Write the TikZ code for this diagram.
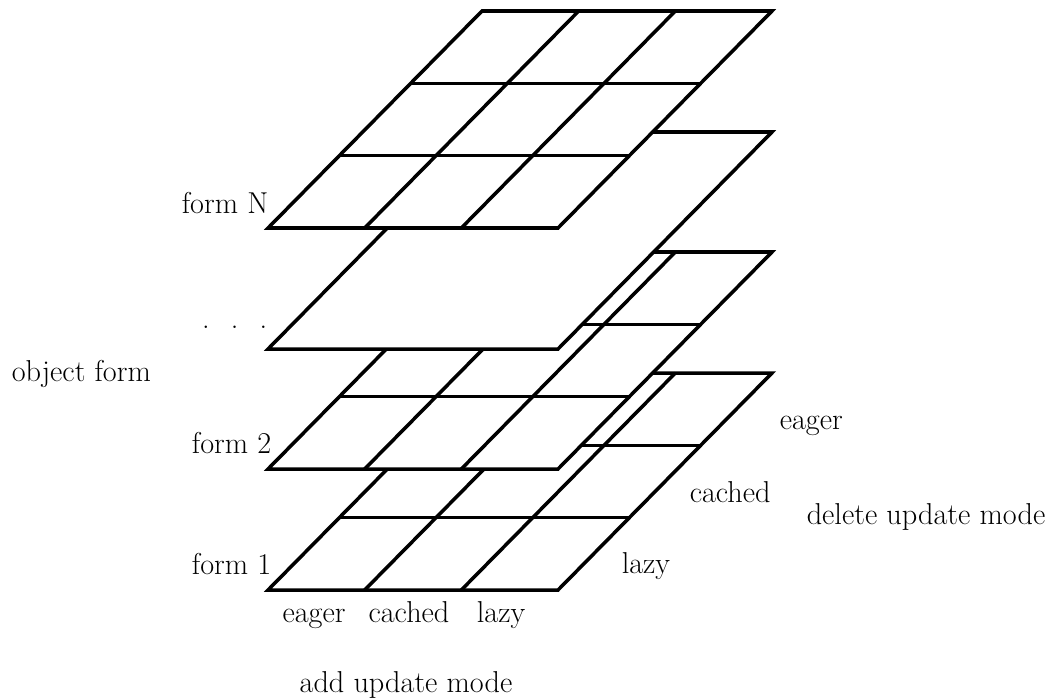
\documentclass[tikz,border=0pt]{standalone}
\begin{document}
\begin{tikzpicture}[x=0.025cm, y=-0.025cm, line width=2.5pt,
  lbl/.style={font=\fontsize{21.5}{26}\selectfont, inner sep=0pt}]
  \useasboundingbox (0,0) rectangle (1052,699);
  \def\W{290}
  \def\SX{214}
  \def\SY{217}
  % layers, lowest first so the upper ones hide it
  \foreach \b/\g/\lay in {590/1/1, 469/1/2, 349/0/d, 228/1/N} {
    \coordinate (L\lay) at (268,\b);
    \filldraw[fill=white] (L\lay) -- ++(\W,0) -- ++(\SX,-\SY) -- ++(-\W,0) -- cycle;
    \ifnum\g=1
      \foreach \i in {1,2} {
        \draw (L\lay) ++(\i*\W/3,0) -- ++(\SX,-\SY);
        \draw (L\lay) ++(\i*\SX/3,-\i*\SY/3) -- ++(\W,0);
      }
    \fi
  }
  % layer names
  \node[lbl, anchor=base east] (formN) at (270,213) {form N};
  \node[lbl, anchor=base east] (dots) at (269,328) {.\hspace{0.7em}.\hspace{0.7em}.};
  \node[lbl, anchor=base east] (form2) at (273,453) {form 2};
  \node[lbl, anchor=base east] (form1) at (273,574) {form 1};
  \node[lbl, anchor=base west] (objform) at (10,381) {object form};
  % add update mode
  \node[lbl, anchor=base] (addeager) at (314,622) {eager};
  \node[lbl, anchor=base] (addcached) at (409,622) {cached};
  \node[lbl, anchor=base] (addlazy) at (501,622) {lazy};
  \node[lbl, anchor=base] (addmode) at (406,692) {add update mode};
  % delete update mode
  \node[lbl, anchor=base west] (deleager) at (778,429) {eager};
  \node[lbl, anchor=base west] (delcached) at (688,502) {cached};
  \node[lbl, anchor=base west] (dellazy) at (620,573) {lazy};
  \node[lbl, anchor=base west] (delmode) at (805,524) {delete update mode};
\end{tikzpicture}
\end{document}
